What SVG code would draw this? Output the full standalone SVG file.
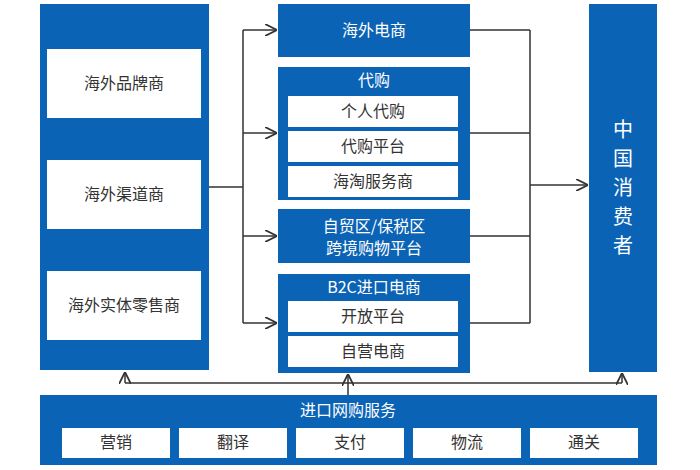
<svg xmlns="http://www.w3.org/2000/svg" width="700" height="470" viewBox="0 0 700 470">
<defs>
<style>
.b{fill:#0b63b5}
.w{fill:#fff}
.t{font-family:"Noto Sans CJK SC","Liberation Sans",sans-serif;font-size:16px;text-anchor:middle;fill:#333}
.tw{font-family:"Noto Sans CJK SC","Liberation Sans",sans-serif;font-size:16px;text-anchor:middle;fill:#fff}
.c{stroke:#333;stroke-width:1.5;fill:none}
</style>
<marker id="a" viewBox="0 0 10 10" refX="10" refY="5" markerWidth="8" markerHeight="8" orient="auto"><path d="M0,0L10,5L0,10" fill="none" stroke="#333" stroke-width="1.5"/></marker>
</defs>
<rect width="700" height="470" fill="#fff"/>
<g id="left"><rect class="b" x="40" y="4" width="169" height="366"/>
<rect class="w" x="47" y="49" width="154" height="69"/><text class="t" x="124" y="89">海外品牌商</text>
<rect class="w" x="47" y="160" width="154" height="69"/><text class="t" x="124" y="200">海外渠道商</text>
<rect class="w" x="47" y="271" width="154" height="69"/><text class="t" x="124" y="311">海外实体零售商</text></g>
<g id="haiwai"><rect class="b" x="278" y="4" width="192" height="53"/><text class="tw" x="374" y="36">海外电商</text></g>
<g id="daigou"><rect class="b" x="278" y="67" width="192" height="133"/><text class="tw" x="374" y="86">代购</text>
<rect class="w" x="288" y="96" width="170" height="31"/><text class="t" x="373" y="117">个人代购</text>
<rect class="w" x="288" y="131" width="170" height="31"/><text class="t" x="373" y="152">代购平台</text>
<rect class="w" x="288" y="166" width="170" height="31"/><text class="t" x="373" y="187">海淘服务商</text></g>
<g id="ftz"><rect class="b" x="278" y="209" width="192" height="54"/><text class="tw" x="374" y="232">自贸区/保税区</text><text class="tw" x="374" y="254">跨境购物平台</text></g>
<g id="b2c"><rect class="b" x="278" y="274" width="192" height="99"/><text class="tw" x="374" y="293">B2C进口电商</text>
<rect class="w" x="288" y="301" width="170" height="31"/><text class="t" x="373" y="322">开放平台</text>
<rect class="w" x="288" y="336" width="170" height="31"/><text class="t" x="373" y="357">自营电商</text></g>
<g id="consumer"><rect class="b" x="589" y="4" width="68" height="368"/>
<text class="tw" style="font-size:20px" x="623" y="137">中</text><text class="tw" style="font-size:20px" x="623" y="166">国</text><text class="tw" style="font-size:20px" x="623" y="195">消</text><text class="tw" style="font-size:20px" x="623" y="224">费</text><text class="tw" style="font-size:20px" x="623" y="253">者</text></g>
<g id="service"><rect class="b" x="40" y="395" width="617" height="70"/><text class="tw" x="348" y="416">进口网购服务</text>
<rect class="w" x="62" y="428" width="108" height="30"/><text class="t" x="116" y="448">营销</text>
<rect class="w" x="179" y="428" width="108" height="30"/><text class="t" x="233" y="448">翻译</text>
<rect class="w" x="296" y="428" width="108" height="30"/><text class="t" x="350" y="448">支付</text>
<rect class="w" x="413" y="428" width="108" height="30"/><text class="t" x="467" y="448">物流</text>
<rect class="w" x="530" y="428" width="108" height="30"/><text class="t" x="584" y="448">通关</text></g>
<g id="connectors">
<path class="c" d="M209,187H243M243,30V323"/>
<path class="c" d="M243,30H277" marker-end="url(#a)"/>
<path class="c" d="M243,133H277" marker-end="url(#a)"/>
<path class="c" d="M243,236H277" marker-end="url(#a)"/>
<path class="c" d="M243,323H277" marker-end="url(#a)"/>
<path class="c" d="M470,30H530M470,133H530M470,236H530M470,323H530M530,30V323"/>
<path class="c" d="M530,185H588" marker-end="url(#a)"/>
<path class="c" d="M125,383H622"/>
<path class="c" d="M125,383V372" marker-end="url(#a)"/>
<path class="c" d="M622,383V373" marker-end="url(#a)"/>
<path class="c" d="M348,395V374" marker-end="url(#a)"/>
</g>
</svg>
